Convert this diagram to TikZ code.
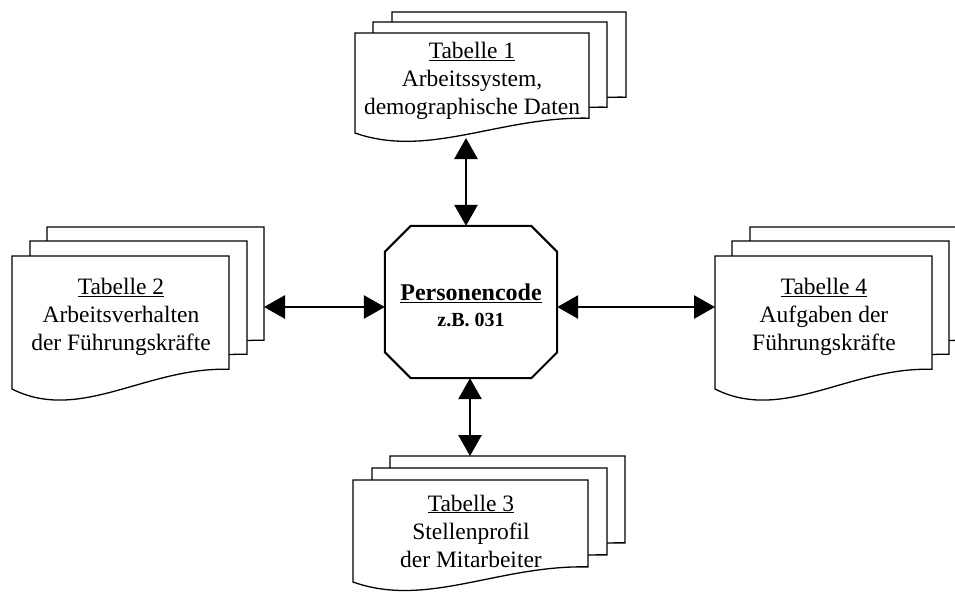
\documentclass[tikz,border=0pt]{standalone}
\usepackage{fontspec}
\setmainfont{Liberation Serif}
\usepackage{tikz}
\usetikzlibrary{arrows.meta}

% one sheet of a document stack: name, top left x, top left y, width, height
\newcommand{\sheet}[5]{%
  \coordinate (#1) at (#2,#3);
  \filldraw[sheetline] (#2,#3) -- ({#2+#4},#3) -- ({#2+#4},{#3+0.852*#5})
    .. controls ({#2+0.62*#4},{#3+0.832*#5}) and ({#2+0.314*#4},{#3+1.258*#5})
    .. (#2,{#3+#5}) -- cycle;
}

\begin{document}
\begin{tikzpicture}[x=1pt, y=-1pt, >={Triangle[length=21pt,width=23pt]},
  sheetline/.style={draw=black, fill=white, line width=1.3pt},
  tabtext/.style={align=center, font=\fontsize{23.5}{28}\selectfont},
  conn/.style={<->, line width=2.8pt}]

  \fill[white] (0,0) rectangle (955,592);
  \useasboundingbox (0,0) rectangle (955,592);

  % Tabelle 1 (top)
  \sheet{t1c}{392}{12}{234}{100}
  \sheet{t1b}{373}{22}{234}{100}
  \sheet{t1a}{355}{33}{234}{100}
  \node[tabtext] (t1) at (472,81)
      {\underline{Tabelle 1}\\Arbeitssystem,\\demographische Daten};

  % Tabelle 2 (left)
  \sheet{t2c}{47}{227}{217}{133}
  \sheet{t2b}{30}{241}{217}{133}
  \sheet{t2a}{12}{256}{217}{133}
  \node[tabtext] (t2) at (121,317)
      {\underline{Tabelle 2}\\Arbeitsverhalten\\der Führungskräfte};

  % Tabelle 4 (right)
  \sheet{t4c}{750}{227}{217}{133}
  \sheet{t4b}{732}{241}{217}{133}
  \sheet{t4a}{715}{256}{217}{133}
  \node[tabtext] (t4) at (824,317)
      {\underline{Tabelle 4}\\Aufgaben der\\Führungskräfte};

  % Tabelle 3 (bottom)
  \sheet{t3c}{390}{456}{235}{102}
  \sheet{t3b}{372}{468}{235}{102}
  \sheet{t3a}{353}{480}{235}{102}
  \node[tabtext] (t3) at (471,531)
      {\underline{Tabelle 3}\\Stellenprofil\\der Mitarbeiter};

  % Personencode (octagon)
  \node[minimum width=172pt, minimum height=152pt] (pc) at (471,302) {};
  \draw[line width=2pt, line join=miter]
      ([xshift=26pt]pc.north west) -- ([xshift=-26pt]pc.north east)
      -- ([yshift=-26pt]pc.north east) -- ([yshift=26pt]pc.south east)
      -- ([xshift=-26pt]pc.south east) -- ([xshift=26pt]pc.south west)
      -- ([yshift=26pt]pc.south west) -- ([yshift=-26pt]pc.north west) -- cycle;
  \node[align=center, font=\fontsize{24}{26}\selectfont\bfseries] (pctext)
      at (471,305)
      {\underline{Personencode}\\{\fontsize{20}{22}\selectfont z.B. 031}};

  \coordinate (t1port) at (466,138);
  \coordinate (t2port) at (264,307);
  \coordinate (t4port) at (715,307);
  \coordinate (t3port) at (470,456);

  \draw[conn] (t1port) -- (t1port |- pc.north);
  \draw[conn] (t2port) -- (t2port -| pc.west);
  \draw[conn] (t4port -| pc.east) -- (t4port);
  \draw[conn] (t3port |- pc.south) -- (t3port);
\end{tikzpicture}
\end{document}
